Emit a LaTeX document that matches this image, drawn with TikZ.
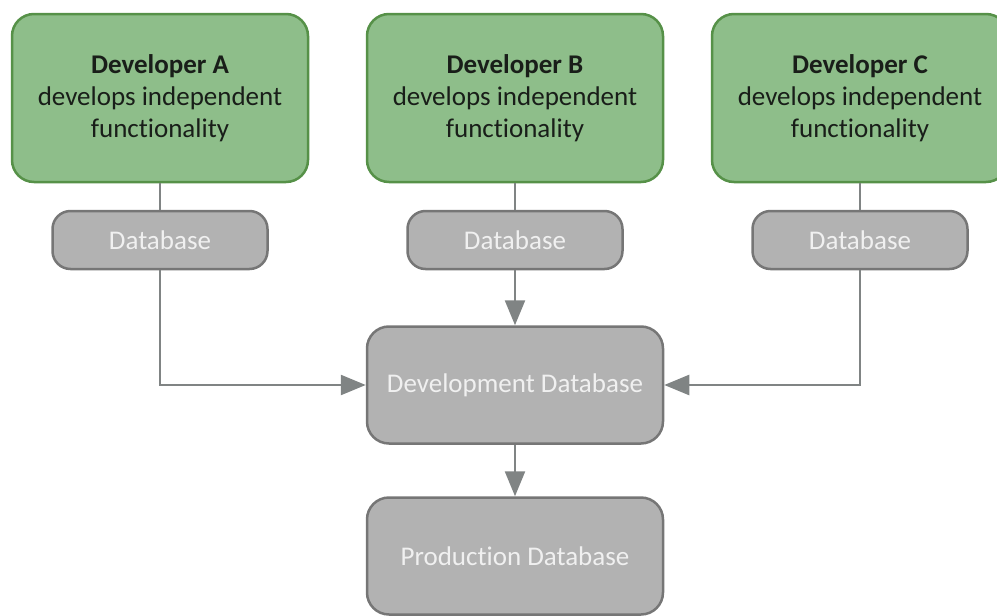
\documentclass[tikz,border=0pt]{standalone}
\usepackage{fontspec}
\setmainfont{Carlito}[Ligatures=NoCommon]
\usetikzlibrary{arrows.meta}
\definecolor{gfill}{RGB}{142,190,138}
\definecolor{gdraw}{RGB}{86,145,72}
\definecolor{bfill}{RGB}{178,178,178}
\definecolor{bdraw}{RGB}{118,118,118}
\definecolor{btext}{RGB}{240,240,240}
\definecolor{conn}{RGB}{128,132,132}
\definecolor{gtext}{RGB}{25,30,25}
\begin{document}
\begin{tikzpicture}[x=1pt,y=-1pt,
  devbox/.style={draw=gdraw,fill=gfill,line width=2.5pt,rounded corners=22pt,minimum width=296pt,minimum height=168pt,align=center,text=gtext,font=\fontsize{27}{32}\selectfont,inner sep=0pt},
  dbbox/.style={draw=bdraw,fill=bfill,line width=2.5pt,rounded corners=18pt,minimum width=215pt,minimum height=58pt,text=btext,font=\fontsize{27}{32}\selectfont,inner sep=0pt},
  bigbox/.style={draw=bdraw,fill=bfill,line width=2.5pt,rounded corners=22pt,minimum width=296pt,minimum height=117pt,text=btext,font=\fontsize{27}{32}\selectfont,inner sep=0pt},
  link/.style={draw=conn,line width=2.5pt},
  arr/.style={link,-{Triangle[length=25pt,width=20pt]}}]
\useasboundingbox (0,0) rectangle (997,616);
\clip (0,0) rectangle (997,616);
\node[devbox] (devA) at (160,98) {\textbf{Developer A}\\develops independent\\functionality};
\node[devbox] (devB) at (515,98) {\textbf{Developer B}\\develops independent\\functionality};
\node[devbox] (devC) at (860,98) {\textbf{Developer C}\\develops independent\\functionality};
\node[dbbox] (dbA) at (160,240) {Database};
\node[dbbox] (dbB) at (515,240) {Database};
\node[dbbox] (dbC) at (860,240) {Database};
\node[bigbox] (dev) at (515,385) {Development Database};
\node[bigbox] (prod) at (515,556) {Production Database};
\draw[link] (devA) -- (dbA);
\draw[link] (devB) -- (dbB);
\draw[link] (devC) -- (dbC);
\draw[arr] (dbA) |- (dev);
\draw[arr] (dbC) |- (dev);
\draw[arr] (dbB) -- (dev);
\draw[arr] (dev) -- (prod);
\end{tikzpicture}
\end{document}
